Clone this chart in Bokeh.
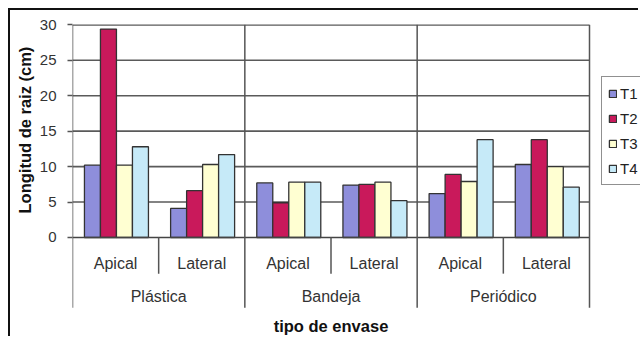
import numpy as np
from bokeh.plotting import figure
from bokeh.models import Range1d, FixedTicker, Legend, LegendItem, Title, ColumnDataSource
from bokeh.transform import dodge
from bokeh.core.properties import value
from bokeh.embed import file_html
from bokeh.resources import INLINE

# ---- data ----
groups = ["Plástica", "Bandeja", "Periódico"]
subcats = ["Apical", "Lateral"]
series = ["T1", "T2", "T3", "T4"]
T1 = [10.2, 4.1, 7.7, 7.4, 6.2, 10.3]
T2 = [29.4, 6.6, 4.9, 7.5, 8.9, 13.8]
T3 = [10.2, 10.3, 7.8, 7.8, 7.9, 10.0]
T4 = [12.8, 11.7, 7.8, 5.2, 13.8, 7.1]
y_ticks = [0, 5, 10, 15, 20, 25, 30]
y_title = "Longitud de raiz (cm)"
x_title = "tipo de envase"

colors = ["#8E8EDB", "#C9195B", "#FFFFD2", "#C6EAF8"]
FONT = value("Liberation Sans")

n_sub = len(groups) * len(subcats)
unit_px = 517 / n_sub
frame_w, frame_h = 568, 314

p = figure(width=630, height=328, output_backend="svg", toolbar_location=None,
           x_range=Range1d(0, frame_w / unit_px), y_range=Range1d(-14.25, 30.05),
           x_axis_location=None, min_border_left=62, min_border_top=14,
           min_border_right=0, min_border_bottom=0)
p.margin = (8, 0, 0, 8)
p.styles = {"border-left": "2px solid #111", "border-top": "2px solid #111"}
p.outline_line_color = None
p.xgrid.visible = False
p.ygrid.visible = False
p.background_fill_color = "white"
p.border_fill_color = "white"

ax = p.yaxis[0]
ax.ticker = FixedTicker(ticks=y_ticks)
ax.axis_line_color = None
ax.major_tick_out = 5
ax.major_tick_in = 0
ax.major_tick_line_color = "#555"
ax.major_tick_line_width = 1.5
ax.minor_tick_line_color = None
ax.major_label_standoff = 11
ax.major_label_text_font = "Liberation Sans"
ax.major_label_text_font_size = "15px"
ax.major_label_text_color = "#333"

# gridlines (5..30)
grid_vals = y_ticks[1:]
p.segment(x0=[0] * len(grid_vals), x1=[n_sub] * len(grid_vals), y0=grid_vals, y1=grid_vals,
          line_color="#5a5a5a", line_width=1.6)

# bars
src = ColumnDataSource(dict(xc=[i + 0.5 for i in range(n_sub)], T1=T1, T2=T2, T3=T3, T4=T4))
bw = 16 / unit_px
renderers = []
for k, s in enumerate(series):
    r = p.vbar(x=dodge("xc", (k - 1.5) * bw + 0.01), top=s, width=bw, bottom=0, source=src,
               fill_color=colors[k], line_color="#333", line_width=1.3)
    renderers.append(r)

# x axis line at 0
p.segment(x0=[0], x1=[n_sub], y0=[0], y1=[0], line_color="#444", line_width=1.6)

# category separators
sub_edges = [2 * g + 1 for g in range(len(groups))]
grp_edges = [2 * g for g in range(len(groups) + 1)]
p.segment(x0=sub_edges, x1=sub_edges, y0=[0] * len(sub_edges), y1=[-5.1] * len(sub_edges),
          line_color="#555", line_width=1.5)
p.segment(x0=grp_edges, x1=grp_edges, y0=[-9.9] * len(grp_edges), y1=[30] * len(grp_edges),
          line_color="#555", line_width=1.5)

# category labels
p.text(x=[i + 0.5 for i in range(n_sub)], y=[-3.65] * n_sub, text=subcats * len(groups),
       text_font=FONT, text_font_size="16px", text_align="center", text_baseline="alphabetic",
       text_color="#333")
p.text(x=[2 * g + 1 for g in range(len(groups))], y=[-8.35] * len(groups), text=groups,
       text_font=FONT, text_font_size="16px", text_align="center", text_baseline="alphabetic",
       text_color="#333")
p.text(x=[n_sub / 2], y=[-12.45], text=[x_title], text_font=FONT, text_font_size="16.5px",
       text_font_style="bold", text_align="center", text_baseline="alphabetic", text_color="#111")

# y-axis title
p.add_layout(Title(text=y_title, align="left", offset=125, text_font="Liberation Sans",
                   text_font_size="16.5px", text_font_style="bold", text_color="#111",
                   standoff=6), "left")

legend = Legend(items=[LegendItem(label=s, renderers=[r]) for s, r in zip(series, renderers)],
                location=(529, 153), padding=6, spacing=5, label_height=20, glyph_height=9,
                glyph_width=9, label_standoff=3, label_width=40, margin=0,
                border_line_color="#222", border_line_width=1.5,
                label_text_font="Liberation Sans", label_text_font_size="15px",
                label_text_color="#222", background_fill_alpha=1)
p.add_layout(legend)

open("out.html", "w").write(file_html(p, INLINE))
